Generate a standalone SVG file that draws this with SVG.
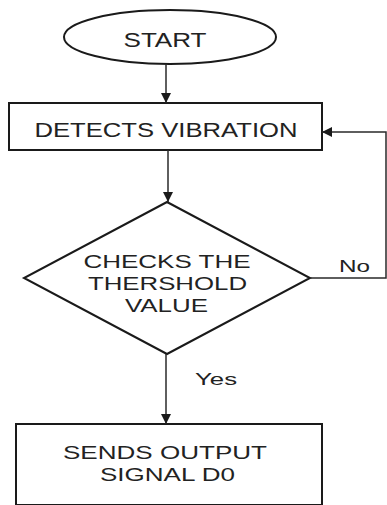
<svg xmlns="http://www.w3.org/2000/svg" width="387" height="505" viewBox="0 0 387 505">
<style>
.shape{fill:#fff;stroke:#1a1a1a;stroke-width:2}
.line{fill:none;stroke:#2a2a2a;stroke-width:1.5}
.t{font-family:"Liberation Sans",Arial,sans-serif;fill:#222;text-anchor:middle}
</style>
<defs>
<marker id="ah" viewBox="0 0 10 10" refX="10" refY="5" markerWidth="10" markerHeight="10" markerUnits="userSpaceOnUse" orient="auto">
<path d="M0,0 L10,5 L0,10 z" fill="#1a1a1a"/>
</marker>
</defs>
<rect width="387" height="505" fill="#fff"/>
<g id="start">
<ellipse class="shape" cx="170" cy="37" rx="106" ry="27"/>
<text class="t" x="165" y="47" font-size="19.5" textLength="83" lengthAdjust="spacingAndGlyphs">START</text>
</g>
<g id="detect">
<rect class="shape" x="9" y="103" width="313" height="47"/>
<text class="t" x="166" y="137" font-size="19.5" textLength="263" lengthAdjust="spacingAndGlyphs">DETECTS VIBRATION</text>
</g>
<g id="check">
<polygon class="shape" points="167,202 310,278 167,354 24,278"/>
<text class="t" x="167" y="268" font-size="18" textLength="167" lengthAdjust="spacingAndGlyphs">CHECKS THE</text>
<text class="t" x="167.5" y="290" font-size="18" textLength="159" lengthAdjust="spacingAndGlyphs">THERSHOLD</text>
<text class="t" x="166.5" y="312" font-size="18" textLength="83" lengthAdjust="spacingAndGlyphs">VALUE</text>
</g>
<g id="output">
<rect class="shape" x="16" y="424" width="306" height="81"/>
<text class="t" x="165" y="459" font-size="18.5" textLength="204" lengthAdjust="spacingAndGlyphs">SENDS OUTPUT</text>
<text class="t" x="167.5" y="481" font-size="18.5" textLength="135" lengthAdjust="spacingAndGlyphs">SIGNAL D0</text>
</g>
<g id="connectors">
<line class="line" x1="166" y1="64" x2="166" y2="103" marker-end="url(#ah)"/>
<line class="line" x1="168" y1="150" x2="168" y2="202" marker-end="url(#ah)"/>
<line class="line" x1="166" y1="354" x2="166" y2="424" marker-end="url(#ah)"/>
<polyline class="line" points="310,278 386,278 386,132 322,132" marker-end="url(#ah)"/>
<text class="t" x="354.5" y="272" font-size="17" textLength="31" lengthAdjust="spacingAndGlyphs">No</text>
<text class="t" x="216" y="385" font-size="17" textLength="42" lengthAdjust="spacingAndGlyphs">Yes</text>
</g>
</svg>
